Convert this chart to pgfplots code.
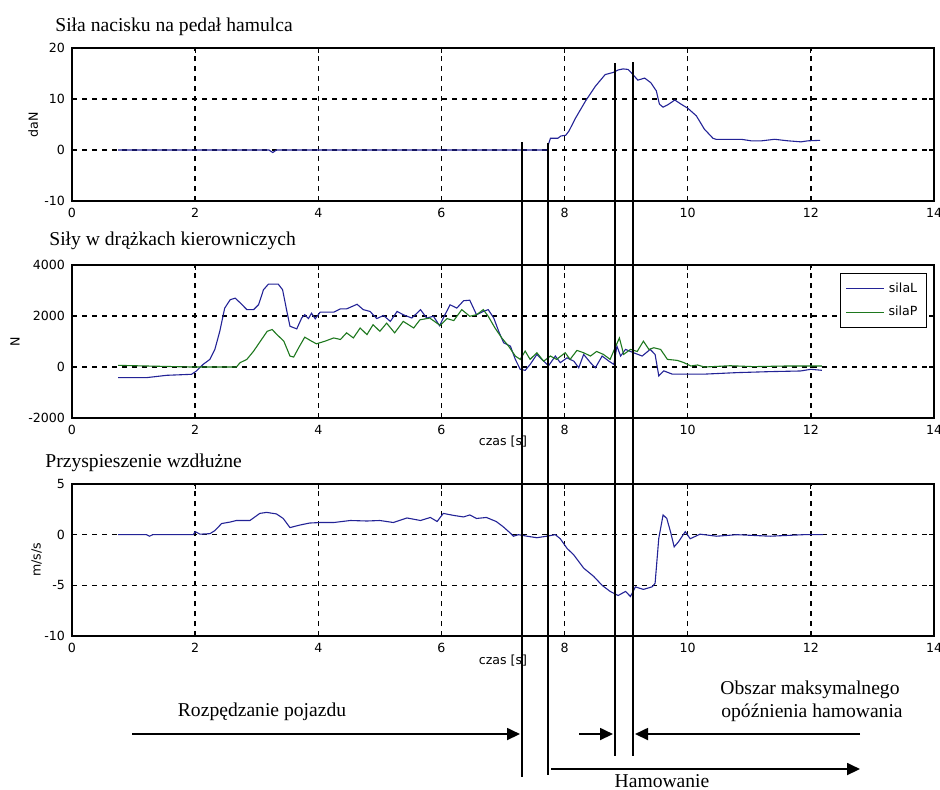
\documentclass[border=0pt]{standalone}
\usepackage{pgfplots}
\pgfplotsset{compat=1.18}
\usetikzlibrary{arrows.meta}
\usepackage{fontspec}
\setmainfont{Liberation Serif}
\newfontfamily\axfont{DejaVu Sans}

\definecolor{mblue}{RGB}{35,35,150}
\definecolor{mgreen}{RGB}{30,120,30}

\pgfplotsset{
  mat/.style={
    scale only axis, width=431pt, height=76.5pt,
    xmin=0, xmax=14, xtick={0,2,...,14},
    axis line style={line width=0.75pt},
    tick align=inside, major tick length=2.5pt,
    tick style={line width=0.6pt, black},
    grid=major,
    major grid style={black, line width=0.7pt, dash pattern=on 2.6pt off 2.4pt},
    tick label style={font=\axfont\fontsize{6.3}{7}\selectfont},
    label style={font=\axfont\fontsize{6.3}{7}\selectfont},
    /pgf/number format/assume math mode=true,
    /pgf/number format/1000 sep={},
    scaled y ticks=false,
    anchor=south west,
  }
}

\begin{document}
\begin{tikzpicture}[x=0.5pt,y=-0.5pt]
\path[use as bounding box] (0,0) rectangle (940,789);

% pedal force
\begin{axis}[mat, at={(36pt,-100.5pt)}, ymin=-10, ymax=20, ytick={-10,0,10,20},
  ylabel={daN}, ylabel style={at={(axis description cs:-0.045,0.5)}, anchor=center}]
\addplot[mblue, line width=0.55pt] coordinates {
(0.75,0) (3.20,0) (3.26,-0.5) (3.32,0) (7.72,0) (7.74,1.2) (7.77,2.3) (7.89,2.3)
(7.94,2.75) (8.02,2.9) (8.07,3.7) (8.18,6.3) (8.34,9.6) (8.50,12.5) (8.66,14.8)
(8.79,15.2) (8.87,15.7) (8.95,15.9) (9.03,15.8) (9.08,15.2) (9.19,13.7) (9.30,14.1)
(9.40,13.2) (9.49,11.6) (9.54,9.0) (9.60,8.4) (9.68,8.9) (9.79,9.8) (9.89,9.0)
(10.0,8.2) (10.14,6.7) (10.27,4.1) (10.41,2.3) (10.46,2.1) (10.87,2.1) (11.03,1.8)
(11.2,1.8) (11.41,2.1) (11.63,1.8) (11.84,1.6) (11.95,1.8) (12.15,1.9)};
\end{axis}

% steering rod forces
\begin{axis}[mat, at={(36pt,-209pt)}, ymin=-2000, ymax=4000, ytick={-2000,0,2000,4000},
  ylabel={N}, ylabel style={at={(axis description cs:-0.066,0.5)}, anchor=center},
  xlabel={czas [s]}, xlabel style={at={(axis description cs:0.5,-0.157)}, anchor=center},
  legend style={at={(axis description cs:0.992,0.948)}, anchor=north east,
    font=\axfont\fontsize{6.3}{7}\selectfont, draw=black, line width=0.6pt,
    inner xsep=2.5pt, inner ysep=2.5pt, row sep=1.5pt},
  legend image code/.code={\draw[#1, line width=0.5pt] (0pt,0pt) -- (19pt,0pt);}]
\addplot[mblue, line width=0.55pt] coordinates {
(0.75,-417) (1.21,-417) (1.54,-325) (1.94,-286) (2.02,-156) (2.13,104) (2.24,300)
(2.32,690) (2.40,1400) (2.48,2310) (2.57,2640) (2.65,2700) (2.73,2520) (2.84,2250)
(2.95,2250) (3.03,2445) (3.11,3030) (3.19,3250) (3.35,3250) (3.42,3030) (3.49,2180)
(3.54,1600) (3.65,1495) (3.73,1920) (3.78,2050) (3.84,1900) (3.89,2110) (3.95,1890)
(4.03,2150) (4.25,2150) (4.36,2280) (4.46,2280) (4.63,2460) (4.73,2250) (4.84,2180)
(4.95,1900) (5.06,2020) (5.17,1790) (5.28,2180) (5.38,2050) (5.52,1920) (5.66,2250)
(5.76,1920) (5.87,1990) (5.97,1620) (6.03,1920) (6.14,2440) (6.25,2310) (6.36,2600)
(6.46,2620) (6.57,2050) (6.68,2180) (6.76,2250) (6.85,1920) (6.93,1400) (7.01,950)
(7.12,820) (7.20,300) (7.28,-90) (7.36,-130) (7.44,100) (7.55,495) (7.63,300)
(7.74,50) (7.85,430) (7.93,170) (8.04,360) (8.15,230) (8.23,-30) (8.31,495)
(8.42,170) (8.50,-30) (8.61,430) (8.72,230) (8.80,100) (8.85,820) (8.91,430)
(8.99,690) (9.12,560) (9.26,430) (9.39,690) (9.47,495) (9.53,-350) (9.61,-150)
(9.75,-280) (10.26,-280) (10.8,-220) (11.35,-180) (11.83,-156) (12.0,-90) (12.18,-130)};
\addlegendentry{silaL}
\addplot[mgreen, line width=0.55pt] coordinates {
(0.75,65) (1.94,0) (2.67,0) (2.73,170) (2.84,300) (2.95,624) (3.06,1014) (3.17,1400)
(3.25,1470) (3.33,1270) (3.44,1014) (3.54,430) (3.60,390) (3.68,750) (3.78,1170)
(3.89,1014) (3.97,910) (4.11,1014) (4.25,1140) (4.36,1080) (4.46,1340) (4.57,1140)
(4.68,1530) (4.79,1270) (4.89,1660) (5.00,1400) (5.11,1720) (5.24,1340) (5.38,1790)
(5.55,1530) (5.65,1850) (5.81,1920) (5.98,1630) (6.09,1900) (6.20,1820) (6.33,2250)
(6.46,1990) (6.57,2050) (6.68,2250) (6.76,1990) (6.87,1530) (6.98,1140) (7.09,820)
(7.20,430) (7.28,300) (7.36,624) (7.44,300) (7.55,560) (7.66,230) (7.77,430)
(7.87,300) (8.01,560) (8.09,300) (8.20,650) (8.31,560) (8.42,430) (8.52,610)
(8.63,495) (8.74,300) (8.82,755) (8.89,1140) (8.96,495) (9.07,690) (9.18,610)
(9.28,1014) (9.37,690) (9.45,755) (9.56,690) (9.67,300) (9.83,260) (9.94,170)
(10.05,40) (10.16,80) (10.27,0) (10.69,50) (11.07,15) (11.61,40) (12.18,40)};
\addlegendentry{silaP}
\end{axis}

% longitudinal acceleration
\begin{axis}[mat, at={(36pt,-318pt)}, height=76pt, ymin=-10, ymax=5, ytick={-10,-5,0,5},
  ylabel={m/s/s}, ylabel style={at={(axis description cs:-0.041,0.5)}, anchor=center},
  xlabel={czas [s]}, xlabel style={at={(axis description cs:0.5,-0.164)}, anchor=center}]
\addplot[mblue, line width=0.55pt] coordinates {
(0.75,0) (1.21,0) (1.26,-0.15) (1.31,0) (1.97,0) (2.0,0.3) (2.08,0.05) (2.24,0.1)
(2.32,0.4) (2.43,1.1) (2.57,1.25) (2.67,1.4) (2.89,1.4) (3.05,2.1) (3.16,2.2)
(3.32,2.05) (3.43,1.6) (3.54,0.7) (3.70,0.95) (3.86,1.15) (4.03,1.2) (4.25,1.2)
(4.52,1.4) (4.79,1.35) (5.0,1.4) (5.22,1.2) (5.44,1.65) (5.66,1.4) (5.82,1.7)
(5.93,1.3) (6.03,2.1) (6.20,1.9) (6.36,1.75) (6.46,1.95) (6.57,1.6) (6.73,1.7)
(6.89,1.3) (7.0,0.8) (7.12,0.15) (7.17,-0.15) (7.25,0) (7.39,-0.15) (7.55,-0.3)
(7.71,-0.15) (7.85,0) (7.93,-0.4) (8.04,-1.35) (8.15,-2.0) (8.31,-3.3) (8.47,-4.1)
(8.61,-5.0) (8.74,-5.6) (8.87,-6.0) (8.99,-5.6) (9.07,-6.1) (9.15,-5.15) (9.28,-5.4)
(9.42,-5.15) (9.47,-4.8) (9.53,-0.35) (9.60,1.95) (9.66,1.6) (9.72,0.3) (9.78,-1.2)
(9.85,-0.7) (9.96,0.3) (10.04,-0.4) (10.2,0.05) (10.47,-0.15) (10.8,0) (11.34,-0.15)
(11.88,0) (12.2,0)};
\end{axis}

% titles
\node[anchor=base west, inner sep=0pt, font=\fontsize{9.8}{11}\selectfont] at (55,31) {Siła nacisku na pedał hamulca};
\node[anchor=base west, inner sep=0pt, font=\fontsize{9.8}{11}\selectfont] at (49,245) {Siły w drążkach kierowniczych};
\node[anchor=base west, inner sep=0pt, font=\fontsize{9.8}{11}\selectfont] at (45,467) {Przyspieszenie wzdłużne};

% markers of phases
\draw[line width=0.9pt] (522,142) -- (522,777);
\draw[line width=0.9pt] (548,143) -- (548,775);
\draw[line width=0.9pt] (615,63) -- (615,756);
\draw[line width=0.9pt] (633,62) -- (633,756);

\draw[line width=0.9pt, -{Triangle[length=6.5pt,width=6pt]}] (132,734) -- (520,734);
\draw[line width=0.9pt, -{Triangle[length=6.5pt,width=6pt]}] (579,734) -- (613,734);
\draw[line width=0.9pt, -{Triangle[length=6.5pt,width=6pt]}] (860,734) -- (635,734);
\draw[line width=0.9pt, -{Triangle[length=6.5pt,width=6pt]}] (551,769) -- (860,769);

\node[font=\fontsize{9.8}{11}\selectfont] at (262,712) {Rozpędzanie pojazdu};
\node[font=\fontsize{9.8}{11}\selectfont] at (810,690) {Obszar maksymalnego};
\node[font=\fontsize{9.8}{11}\selectfont] at (812,713) {opóźnienia hamowania};
\node[font=\fontsize{9.8}{11}\selectfont] at (662,781) {Hamowanie};
\end{tikzpicture}
\end{document}
